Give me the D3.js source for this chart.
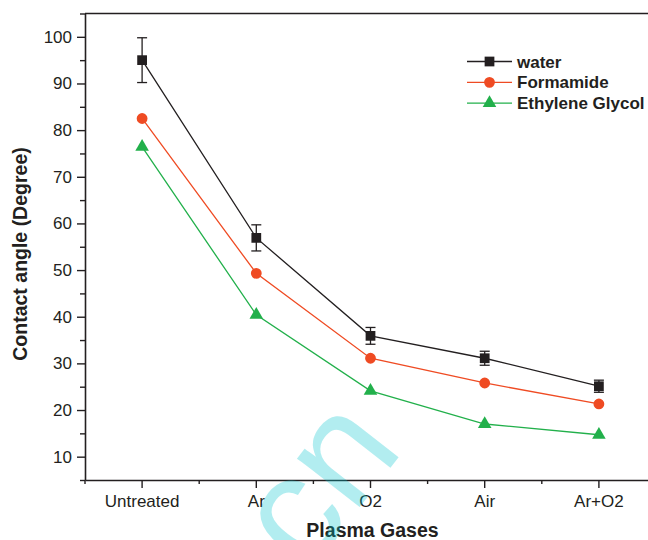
<!DOCTYPE html>
<html>
<head>
<meta charset="utf-8">
<script src="https://cdn.jsdelivr.net/npm/d3@7"></script>
<style>
  html, body { margin: 0; padding: 0; background: #fff; }
  svg { display: block; font-family: Arial, "Liberation Sans", Helvetica, sans-serif; }
</style>
</head>
<body>
<svg id="chart" width="648" height="540"></svg>
<script>
// Contact angle of three test liquids after plasma treatment with different gases
const categories = ["Untreated", "Ar", "O2", "Air", "Ar+O2"];
const water      = [95.0, 56.9, 35.9, 31.1, 25.1];
const waterErr   = [4.8, 2.8, 1.8, 1.5, 1.3];
const formamide  = [82.5, 49.3, 31.1, 25.8, 21.3];
const glycol     = [76.4, 40.4, 24.1, 17.0, 14.7];
const yTicks     = [10, 20, 30, 40, 50, 60, 70, 80, 90, 100];
const yMinor     = [5, 15, 25, 35, 45, 55, 65, 75, 85, 95, 105];

const seriesNames = ["water", "Formamide", "Ethylene Glycol"];
const colors = { "water": "#231f20", "Formamide": "#ef4b23", "Ethylene Glycol": "#22b04b" };
const shapes = { "water": d3.symbolSquare, "Formamide": d3.symbolCircle, "Ethylene Glycol": d3.symbolTriangle };
const sizes  = { "water": 95, "Formamide": 92, "Ethylene Glycol": 80 };

const series = [
  { name: "water", values: water, err: waterErr },
  { name: "Formamide", values: formamide, err: null },
  { name: "Ethylene Glycol", values: glycol, err: null }
];

const svg = d3.select("#chart");
const ink = "#231f20";

const plotLeft = 85, plotRight = 656, plotTop = 13.5, plotBottom = 480;

const x = d3.scaleBand().domain(categories).range([plotLeft, plotRight]).padding(0);
const cx = c => x(c) + x.bandwidth() / 2;
const y = d3.scaleLinear().domain([5, 105]).range([plotBottom, plotTop]);

// frame top edge
svg.append("line")
  .attr("x1", plotLeft).attr("x2", 648).attr("y1", plotTop).attr("y2", plotTop)
  .attr("stroke", ink).attr("stroke-width", 1.6);

// y axis: labelled major ticks plus unlabelled minor ticks
svg.append("g").attr("transform", `translate(${plotLeft},0)`)
  .call(d3.axisLeft(y).tickValues(yTicks).tickSize(8).tickPadding(5).tickSizeOuter(0));
svg.append("g").attr("transform", `translate(${plotLeft},0)`)
  .call(d3.axisLeft(y).tickValues(yMinor).tickSize(5).tickFormat("").tickSizeOuter(0))
  .select(".domain").remove();

// x axis: category ticks plus minor ticks at band edges
svg.append("g").attr("transform", `translate(0,${plotBottom})`)
  .call(d3.axisBottom(x).tickSize(8).tickPadding(7).tickSizeOuter(0));
const edges = categories.map(c => x(c));
svg.append("g").selectAll("line").data(edges).join("line")
  .attr("x1", d => d).attr("x2", d => d)
  .attr("y1", plotBottom).attr("y2", plotBottom + 4)
  .attr("stroke", ink).attr("stroke-width", 1.4);

svg.selectAll(".domain").attr("stroke", ink).attr("stroke-width", 1.6);
svg.selectAll(".tick line").attr("stroke", ink).attr("stroke-width", 1.4);
svg.selectAll(".tick text").attr("fill", ink).attr("font-size", 17);

// series lines
const line = d3.line().x((d, i) => cx(categories[i])).y(d => y(d));
series.forEach(s => {
  svg.append("path")
    .datum(s.values)
    .attr("d", line)
    .attr("fill", "none")
    .attr("stroke", colors[s.name])
    .attr("stroke-width", 1.3);
});

// error bars
series.filter(s => s.err).forEach(s => {
  const g = svg.append("g").attr("stroke", colors[s.name]).attr("stroke-width", 1.3);
  s.values.forEach((v, i) => {
    const px = cx(categories[i]);
    const hi = y(v + s.err[i]), lo = y(v - s.err[i]);
    g.append("line").attr("x1", px).attr("x2", px).attr("y1", hi).attr("y2", lo);
    g.append("line").attr("x1", px - 5).attr("x2", px + 5).attr("y1", hi).attr("y2", hi);
    g.append("line").attr("x1", px - 5).attr("x2", px + 5).attr("y1", lo).attr("y2", lo);
  });
});

// markers
series.forEach(s => {
  const sym = d3.symbol().type(shapes[s.name]).size(sizes[s.name]);
  svg.append("g").selectAll("path").data(s.values).join("path")
    .attr("transform", (d, i) => `translate(${cx(categories[i])},${y(d)})`)
    .attr("d", sym)
    .attr("fill", colors[s.name]);
});

// legend
const legend = svg.append("g").attr("transform", "translate(467,61.5)");
seriesNames.forEach((name, i) => {
  const g = legend.append("g").attr("transform", `translate(0,${i * 20.8})`);
  g.append("line").attr("x1", 0).attr("x2", 45).attr("y1", 0).attr("y2", 0)
    .attr("stroke", colors[name]).attr("stroke-width", 1.3);
  g.append("path").attr("transform", "translate(22.5,0)")
    .attr("d", d3.symbol().type(shapes[name]).size(sizes[name])())
    .attr("fill", colors[name]);
  g.append("text").attr("x", 50).attr("y", 0).attr("dy", "0.36em")
    .attr("font-size", 17).attr("font-weight", "bold").attr("fill", ink)
    .text(name);
});

// axis titles
svg.append("text")
  .attr("transform", "translate(27,254) rotate(-90)")
  .attr("text-anchor", "middle")
  .attr("font-size", 19.5).attr("font-weight", "bold").attr("fill", ink)
  .text("Contact angle (Degree)");
svg.append("text")
  .attr("x", 372.5).attr("y", 537)
  .attr("text-anchor", "middle")
  .attr("font-size", 19.5).attr("font-weight", "bold").attr("fill", ink)
  .text("Plasma Gases");

// translucent cyan stamp
svg.append("text")
  .attr("transform", "translate(325,488) rotate(-52)")
  .attr("text-anchor", "middle").attr("dy", "0.26em")
  .attr("font-size", 150)
  .attr("fill", "#00c4cc").attr("fill-opacity", 0.3)
  .text("cn");
</script>
</body>
</html>
